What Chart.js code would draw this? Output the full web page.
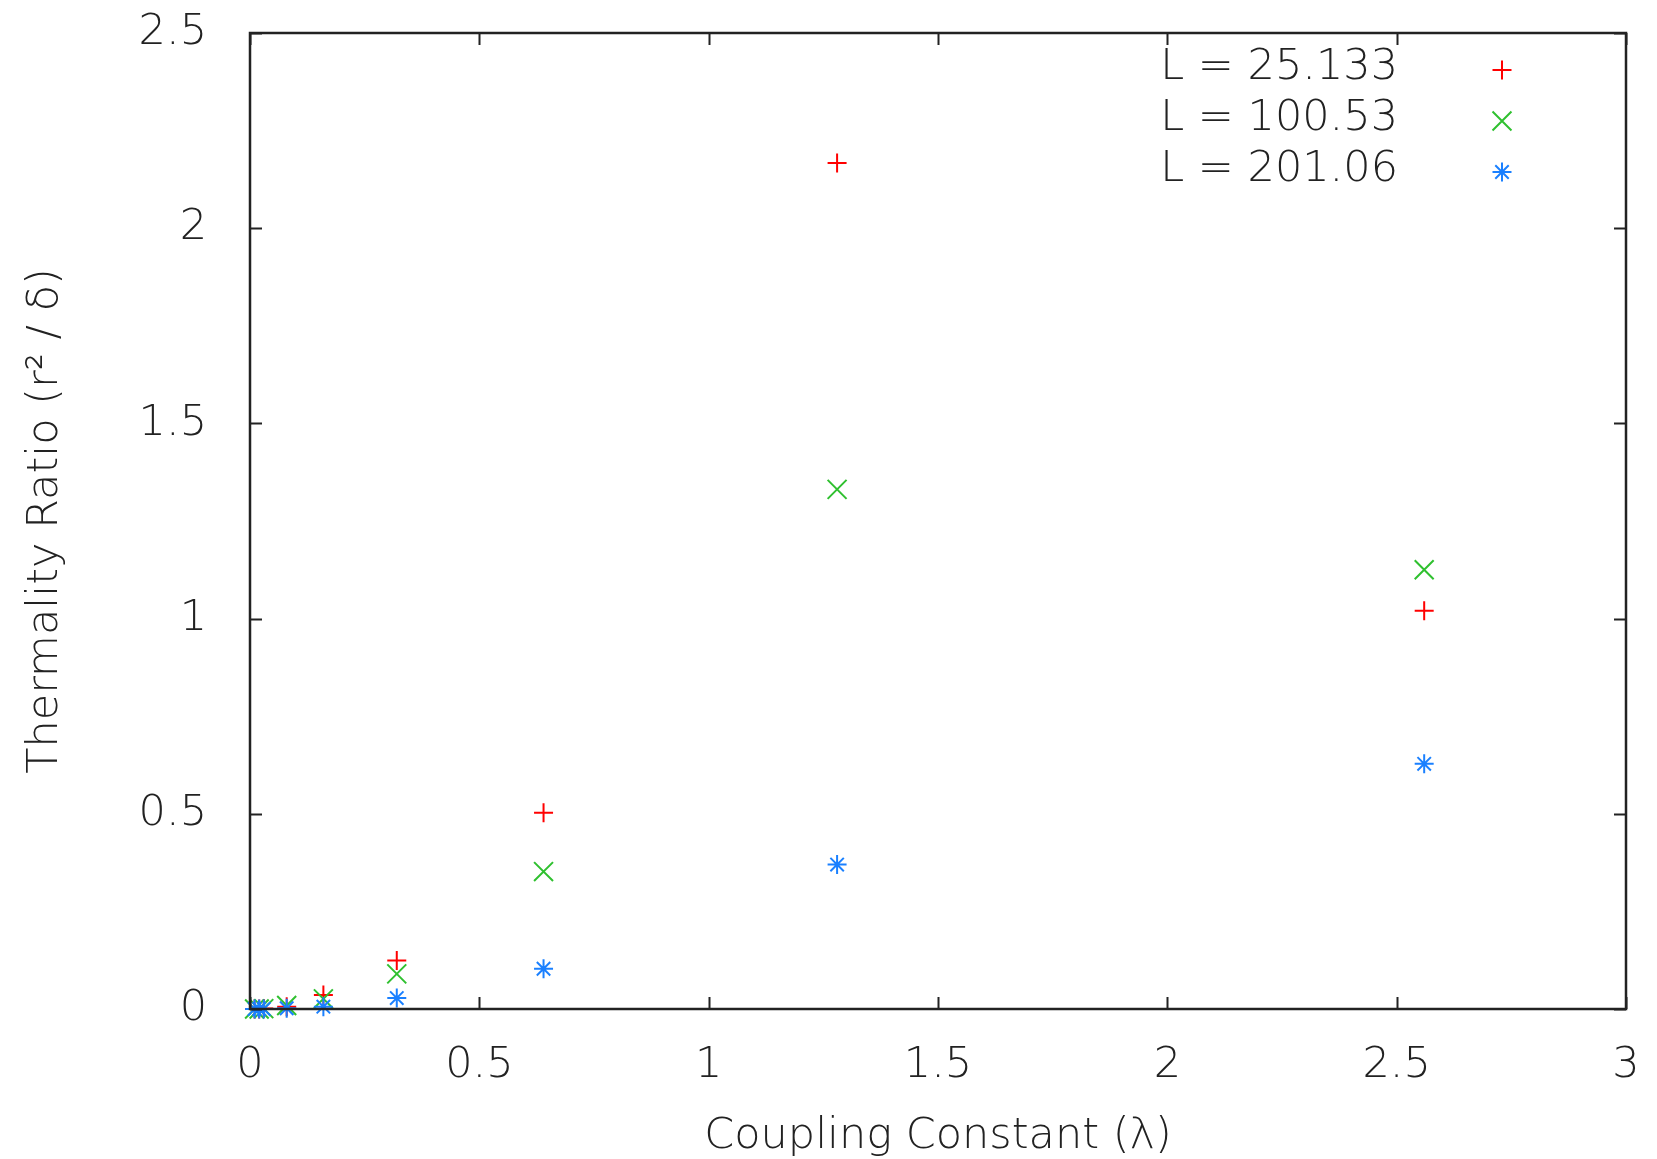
<!DOCTYPE html>
<html>
<head>
<meta charset="utf-8">
<script src="https://cdn.jsdelivr.net/npm/chart.js@4/dist/chart.umd.min.js"></script>
<style>
    html, body { margin: 0; padding: 0; background: #fff; }
    #wrap { width: 1657px; height: 1159px; }
</style>
</head>
<body>
<div id="wrap"><canvas id="ctx" width="1657" height="1159"></canvas></div>
<script>
// coupling constant values (shared by every series)
const lambdas = [0.01, 0.02, 0.03, 0.08, 0.16, 0.32, 0.64, 1.28, 2.56];

// thermality ratio
const ratioL25 = [0.0, 0.0, 0.001, 0.006, 0.036, 0.124, 0.503, 2.167, 1.02];
const ratioL100 = [0.0, 0.0, 0.001, 0.009, 0.026, 0.090, 0.352, 1.331, 1.125];
const ratioL201 = [0.0, 0.0, 0.0, 0.002, 0.006, 0.028, 0.103, 0.370, 0.628];

const seriesLabels = ['L = 25.133', 'L = 100.53', 'L = 201.06'];
const seriesColors = ['#ff0000', '#2fc02f', '#1a80ff'];
const seriesStyles = ['cross', 'crossRot', 'star'];
const seriesRadius = [9.5, 13.4, 9.5];

const xTicks = [0, 0.5, 1, 1.5, 2, 2.5, 3];
const yTicks = [0, 0.5, 1, 1.5, 2, 2.5];

const FONT = 'DejaVu Sans';
const INK = '#222';

function toPoints(values) {
    return lambdas.map((x, i) => ({x: x, y: values[i]}));
}

// gnuplot style box with inward ticks on all four sides
const frame = {
    id: 'frame',
    afterDatasetsDraw(chart) {
        const {ctx, chartArea: a, scales} = chart;
        const len = 12;
        ctx.save();
        ctx.strokeStyle = INK;
        ctx.lineWidth = 2;
        ctx.beginPath();
        for (const v of xTicks) {
            const px = Math.round(scales.x.getPixelForValue(v)) + 0.5;
            ctx.moveTo(px, a.bottom); ctx.lineTo(px, a.bottom - len);
            ctx.moveTo(px, a.top); ctx.lineTo(px, a.top + len);
        }
        for (const v of yTicks) {
            const py = Math.round(scales.y.getPixelForValue(v)) + 0.5;
            ctx.moveTo(a.left, py); ctx.lineTo(a.left + len, py);
            ctx.moveTo(a.right, py); ctx.lineTo(a.right - len, py);
        }
        ctx.stroke();
        ctx.lineWidth = 2.5;
        ctx.strokeRect(a.left, a.top, a.right - a.left, a.bottom - a.top);
        ctx.restore();
    }
};

// legend in the top right corner: text, then the marker
const keyBox = {
    id: 'keyBox',
    afterDraw(chart) {
        const {ctx, chartArea: a} = chart;
        ctx.save();
        ctx.font = '300 43px "' + FONT + '"';
        ctx.textAlign = 'right';
        ctx.textBaseline = 'middle';
        chart.data.datasets.forEach((ds, i) => {
            const y = a.top + 35 + i * 51;
            ctx.fillStyle = INK;
            ctx.fillText(ds.label, a.right - 228, y);
            ctx.strokeStyle = ds.borderColor;
            ctx.lineWidth = ds.borderWidth;
            Chart.helpers.drawPoint(ctx, {
                pointStyle: ds.pointStyle,
                radius: ds.pointRadius,
                borderWidth: ds.borderWidth,
                rotation: 0
            }, a.right - 124, y + 2);
        });
        ctx.restore();
    }
};

const datasets = [ratioL25, ratioL100, ratioL201].map((vals, i) => ({
    label: seriesLabels[i],
    data: toPoints(vals),
    borderColor: seriesColors[i],
    backgroundColor: seriesColors[i],
    pointStyle: seriesStyles[i],
    pointRadius: seriesRadius[i],
    pointHoverRadius: seriesRadius[i],
    borderWidth: 2,
    showLine: false,
    clip: false,
    order: 2 - i
}));

const labelFont = {family: FONT, size: 43, weight: 300};

new Chart(document.getElementById('ctx'), {
    type: 'scatter',
    data: {datasets: datasets},
    options: {
        responsive: false,
        animation: false,
        devicePixelRatio: 1,
        layout: {padding: {left: 0, right: 31, top: 33, bottom: 0}},
        plugins: {
            legend: {display: false},
            tooltip: {enabled: false}
        },
        scales: {
            x: {
                type: 'linear',
                min: 0,
                max: 3,
                afterBuildTicks: s => { s.ticks = xTicks.map(v => ({value: v})); },
                afterFit: s => {
                    s.height = 150;
                    s.paddingLeft = 0;
                    s.paddingRight = 0;
                },
                grid: {display: false, drawTicks: false},
                border: {display: false},
                ticks: {
                    padding: 31,
                    color: INK,
                    font: labelFont,
                    maxRotation: 0,
                    callback: v => String(v)
                },
                title: {
                    display: true,
                    text: 'Coupling Constant (λ)',
                    color: INK,
                    font: labelFont,
                    padding: {top: 0, bottom: -4}
                }
            },
            y: {
                type: 'linear',
                min: 0,
                max: 2.5,
                afterBuildTicks: s => { s.ticks = yTicks.map(v => ({value: v})); },
                afterFit: s => {
                    s.width = 250;
                    s.paddingTop = 0;
                    s.paddingBottom = 0;
                },
                grid: {display: false, drawTicks: false},
                border: {display: false},
                ticks: {
                    padding: 43,
                    color: INK,
                    font: labelFont,
                    callback: v => String(v)
                },
                title: {
                    display: true,
                    text: 'Thermality Ratio (r² / δ)',
                    color: INK,
                    font: labelFont,
                    padding: {top: 20, bottom: 0}
                }
            }
        }
    },
    plugins: [frame, keyBox]
});
</script>
</body>
</html>
